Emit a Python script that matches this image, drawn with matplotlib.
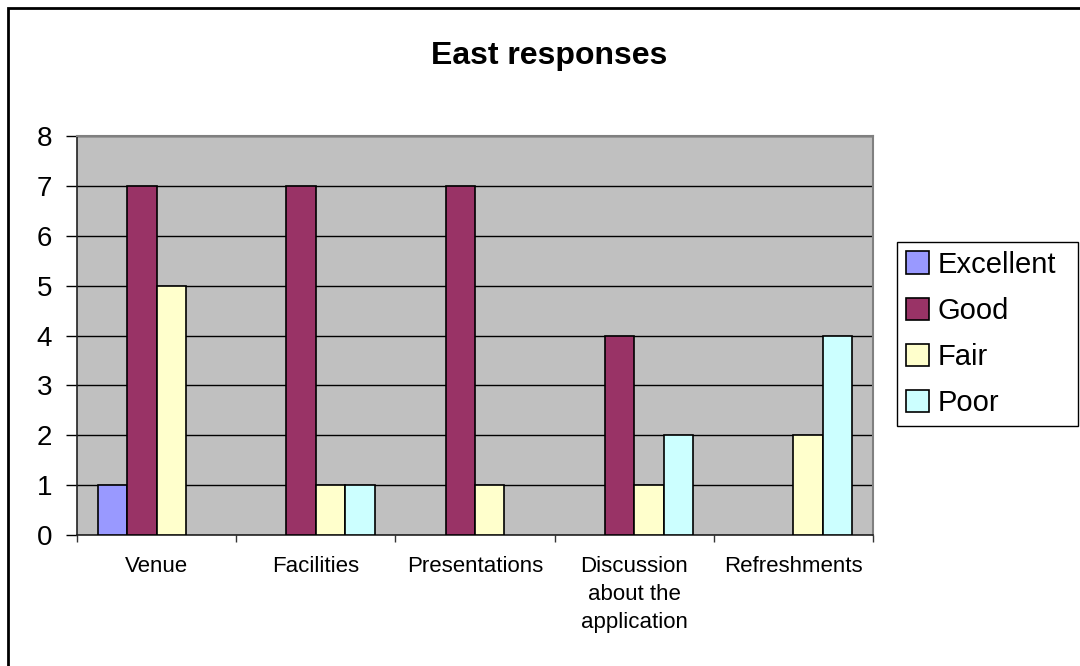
import matplotlib.pyplot as plt
import numpy as np
from matplotlib.patches import Rectangle

plt.rcParams["font.family"] = ["Liberation Sans", "DejaVu Sans"]

# ── data ──
categories = ["Venue", "Facilities", "Presentations",
              "Discussion\nabout the\napplication", "Refreshments"]
excellent = [1, 0, 0, 0, 0]
good = [7, 7, 7, 4, 0]
fair = [5, 1, 1, 1, 2]
poor = [0, 1, 0, 2, 4]

series = [
    ("Excellent", excellent, "#9999FF"),
    ("Good",      good,      "#993366"),
    ("Fair",      fair,      "#FFFFCC"),
    ("Poor",      poor,      "#CCFFFF"),
]

W, H = 1080, 666
fig = plt.figure(figsize=(W / 100, H / 100), dpi=100)
ax = fig.add_axes([77 / W, 1 - 535 / H, (873 - 77) / W, (535 - 136) / H])
ax.set_facecolor("#C0C0C0")

x = np.arange(len(categories))
bw = 0.185
for i, (name, vals, color) in enumerate(series):
    vals = np.asarray(vals)
    keep = vals > 0  # empty counts leave no outline on the axis
    ax.bar(x[keep] + (i - 1.5) * bw, vals[keep], width=bw, color=color,
           edgecolor="black", linewidth=1.2, label=name, zorder=3)

ax.set_xlim(-0.5, len(categories) - 0.5)
ax.set_ylim(0, 8)
ax.set_yticks(range(9))
ax.yaxis.grid(True, color="black", linewidth=1.0, zorder=1)
ax.set_axisbelow(True)

# category labels centred, ticks on group boundaries
ax.set_xticks(x)
ax.set_xticklabels(categories, fontsize=16, linespacing=1.45, va="top")
ax.set_xticks(np.arange(-0.5, len(categories)), minor=True)
ax.tick_params(axis="x", which="major", length=0, pad=15)
ax.tick_params(axis="x", which="minor", length=5, width=1, color="#333333")
ax.tick_params(axis="y", labelsize=20, length=8, width=1, pad=10)

for side in ("left", "bottom"):
    ax.spines[side].set_color("#222222")
    ax.spines[side].set_linewidth(1.2)
for side in ("top", "right"):
    ax.spines[side].set_color("#808080")
    ax.spines[side].set_linewidth(1.5)

fig.text(549 / W, 1 - 56 / H, "East responses", ha="center", va="center",
         fontsize=23, fontweight="bold")

fig.legend(loc="upper left", bbox_to_anchor=(897 / W, 1 - 242 / H, (1078 - 897) / W, 0.0),
           mode="expand", borderaxespad=0, fontsize=21, frameon=True,
           fancybox=False, edgecolor="black", framealpha=1,
           handlelength=0.8, handleheight=0.8, handletextpad=0.3,
           labelspacing=0.62, borderpad=0.3)
fig.legends[0].get_frame().set_linewidth(1.0)

# outer chart border
fig.patches.append(Rectangle((8 / W, -0.1), 1.2, 1.1 - 8 / H, transform=fig.transFigure,
                             fill=False, edgecolor="black", linewidth=2))

fig.savefig("out.png", dpi=100)
